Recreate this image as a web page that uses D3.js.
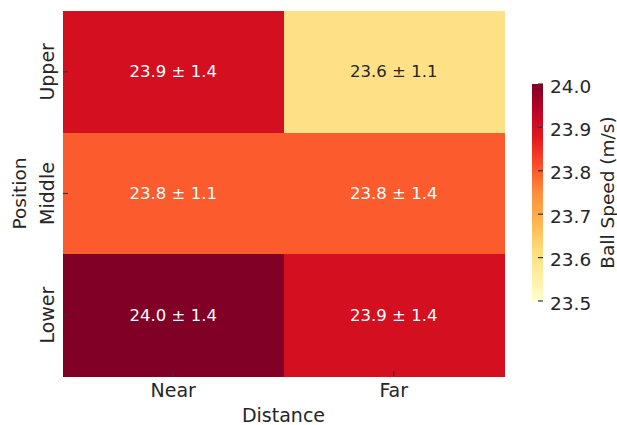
<!DOCTYPE html>
<html>
<head>
<meta charset="utf-8">
<script src="https://cdn.jsdelivr.net/npm/d3@7"></script>
<style>
  html, body { margin: 0; padding: 0; background: #fff; }
  svg { display: block; font-family: "DejaVu Sans", sans-serif; }
</style>
</head>
<body>
<svg id="chart" width="617" height="425"></svg>
<script>
// Ball speed by target position (rows) and distance (columns)
const positions = ["Upper", "Middle", "Lower"];
const distances = ["Near", "Far"];
const meanSpeed = [
  [23.9, 23.6],
  [23.8, 23.8],
  [24.0, 23.9]
];
const sdSpeed = [
  [1.4, 1.1],
  [1.1, 1.4],
  [1.4, 1.4]
];
const colorTicks = [23.5, 23.6, 23.7, 23.8, 23.9, 24.0];
const colorDomain = [23.5, 24.0];

// YlOrRd anchor colours, evenly spaced over the colour range
const ylOrRd = ["#ffffcc", "#ffeda0", "#fed976", "#feb24c", "#fd8d3c",
                "#fc4e2a", "#e31a1c", "#bd0026", "#800026"];

const svg = d3.select("#chart");
const plot = { left: 63, right: 504, top: 11, bottom: 376 };
const bar = { left: 532, right: 543, top: 84, bottom: 301 };
const ink = "#262626";

const x = d3.scaleBand().domain(distances).range([plot.left, plot.right]);
const y = d3.scaleBand().domain(positions).range([plot.top, plot.bottom]);

const stops = d3.range(ylOrRd.length).map(i =>
  colorDomain[0] + (colorDomain[1] - colorDomain[0]) * i / (ylOrRd.length - 1));
const color = d3.scaleLinear().domain(stops).range(ylOrRd)
  .interpolate(d3.interpolateRgb).clamp(true);

const cells = [];
positions.forEach((p, i) => distances.forEach((d, j) => {
  cells.push({ p, d, mean: meanSpeed[i][j], sd: sdSpeed[i][j] });
}));

// heat cells
svg.append("g").attr("shape-rendering", "crispEdges")
  .selectAll("rect").data(cells).join("rect")
  .attr("x", c => x(c.d)).attr("y", c => y(c.p))
  .attr("width", x.bandwidth() + 0.5).attr("height", y.bandwidth() + 0.5)
  .attr("fill", c => color(c.mean));

// annotations: light text on dark cells (relative luminance test)
const lin = v => { v /= 255; return v <= 0.03928 ? v / 12.92 : Math.pow((v + 0.055) / 1.055, 2.4); };
const isDark = v => {
  const c = d3.rgb(color(v));
  return 0.2126 * lin(c.r) + 0.7152 * lin(c.g) + 0.0722 * lin(c.b) <= 0.408;
};
svg.append("g").selectAll("text").data(cells).join("text")
  .attr("x", c => x(c.d) + x.bandwidth() / 2)
  .attr("y", c => y(c.p) + y.bandwidth() / 2)
  .attr("text-anchor", "middle")
  .attr("dominant-baseline", "central")
  .attr("font-size", 16.5)
  .attr("fill", c => isDark(c.mean) ? "#ffffff" : ink)
  .text(c => `${c.mean.toFixed(1)} ± ${c.sd.toFixed(1)}`);

// x axis
const xAxis = svg.append("g");
xAxis.selectAll("line").data(distances).join("line")
  .attr("x1", d => x(d) + x.bandwidth() / 2).attr("x2", d => x(d) + x.bandwidth() / 2)
  .attr("y1", plot.bottom - 5).attr("y2", plot.bottom)
  .attr("stroke", "#333").attr("stroke-width", 1.2);
xAxis.selectAll("text").data(distances).join("text")
  .attr("x", d => x(d) + x.bandwidth() / 2).attr("y", 397)
  .attr("text-anchor", "middle").attr("font-size", 19).attr("fill", ink)
  .text(d => d);
svg.append("text")
  .attr("x", (plot.left + plot.right) / 2).attr("y", 422)
  .attr("text-anchor", "middle").attr("font-size", 19).attr("fill", ink)
  .text("Distance");

// y axis
const yAxis = svg.append("g");
yAxis.selectAll("line").data(positions).join("line")
  .attr("x1", plot.left).attr("x2", plot.left + 5)
  .attr("y1", p => y(p) + y.bandwidth() / 2).attr("y2", p => y(p) + y.bandwidth() / 2)
  .attr("stroke", "#333").attr("stroke-width", 1.2);
yAxis.selectAll("text").data(positions).join("text")
  .attr("transform", p => `translate(54,${y(p) + y.bandwidth() / 2}) rotate(-90)`)
  .attr("text-anchor", "middle").attr("font-size", 19).attr("fill", ink)
  .text(p => p);
svg.append("text")
  .attr("transform", `translate(26,${(plot.top + plot.bottom) / 2}) rotate(-90)`)
  .attr("text-anchor", "middle").attr("font-size", 18.5).attr("fill", ink)
  .text("Position");

// colour bar
const cScale = d3.scaleLinear().domain(colorDomain).range([bar.bottom, bar.top]);
const grad = svg.append("defs").append("linearGradient")
  .attr("id", "cbar").attr("x1", 0).attr("y1", 1).attr("x2", 0).attr("y2", 0);
grad.selectAll("stop").data(stops).join("stop")
  .attr("offset", (s, i) => i / (stops.length - 1))
  .attr("stop-color", s => color(s));
svg.append("rect")
  .attr("x", bar.left).attr("y", bar.top)
  .attr("width", bar.right - bar.left).attr("height", bar.bottom - bar.top)
  .attr("fill", "url(#cbar)");

const cAxis = svg.append("g");
cAxis.selectAll("line").data(colorTicks).join("line")
  .attr("x1", bar.right - 5).attr("x2", bar.right)
  .attr("y1", t => cScale(t)).attr("y2", t => cScale(t))
  .attr("stroke", "#333").attr("stroke-width", 1.2);
cAxis.selectAll("text").data(colorTicks).join("text")
  .attr("x", 550).attr("y", t => cScale(t) + 2)
  .attr("dominant-baseline", "central").attr("font-size", 18.5).attr("fill", ink)
  .text(t => t.toFixed(1));
svg.append("text")
  .attr("transform", `translate(614,${(bar.top + bar.bottom) / 2}) rotate(-90)`)
  .attr("text-anchor", "middle").attr("font-size", 18.5).attr("fill", ink)
  .text("Ball Speed (m/s)");
</script>
</body>
</html>
